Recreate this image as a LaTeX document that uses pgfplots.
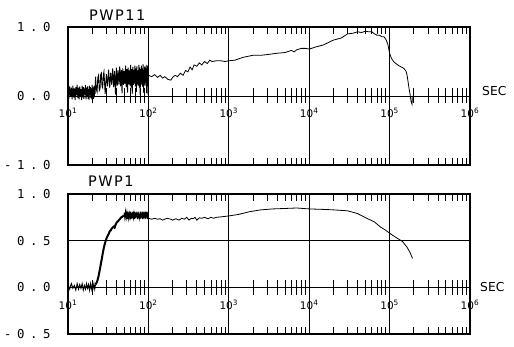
\documentclass[border=0pt]{standalone}
\usepackage{pgfplots}
\pgfplotsset{compat=1.18}
\usepackage{fontspec}
\setmainfont{DejaVu Sans}
\newfontfamily\labfont[LetterSpace=45]{DejaVu Sans Mono}
\newfontfamily\titfont[LetterSpace=10]{DejaVu Sans}
\begin{document}
\begin{tikzpicture}
% ---------------- top panel ----------------
\begin{axis}[at={(68pt,-165pt)}, anchor=south west, scale only axis, width=402pt, height=138pt,
    xmode=log, xmin=10, xmax=1000000, ymin=-1, ymax=1,
    axis line style={line width=1.2pt},
    xtick={100,1000,10000,100000}, xticklabels={},
    xmajorgrids, major grid style={black, line width=0.7pt},
    xminorticks=true,
    minor xtick={20,30,40,50,60,70,80,90,200,300,400,500,600,700,800,900,2000,3000,4000,5000,6000,7000,8000,9000,20000,30000,40000,50000,60000,70000,80000,90000,200000,300000,400000,500000,600000,700000,800000,900000},
    major tick length=0pt, minor tick length=7pt,
    minor x tick style={black, line width=0.9pt},
    tick align=inside, xtick pos=both, ytick pos=left,
    ytick={-1,0,1}, yticklabels={-1.0,0.0,1.0},
    yticklabel style={font=\labfont\fontsize{12.3}{12.3}\selectfont, xshift=-14pt}]
\addplot[black, line width=0.9pt] coordinates {
(10.00,0.10)(10.25,-0.04)(10.50,0.14)(10.75,0.00)(11.00,0.12)(11.25,-0.05)(11.50,0.15)(11.75,-0.02)
(12.00,0.11)(12.25,-0.06)(12.50,0.13)(12.75,0.01)(13.00,0.16)(13.25,-0.03)(13.50,0.12)(13.75,-0.05)
(14.00,0.14)(14.25,0.00)(14.50,0.10)(14.75,-0.06)(15.00,0.15)(15.25,-0.02)(15.50,0.13)(15.75,-0.04)
(16.00,0.11)(16.25,0.02)(16.50,0.16)(16.75,-0.05)(17.00,0.12)(17.25,-0.01)(17.50,0.14)(17.75,-0.04)
(18.00,0.10)(18.25,-0.06)(18.50,0.15)(18.75,0.01)(19.00,0.13)(19.25,-0.03)(19.50,0.11)(19.75,-0.05)
(20.00,0.16)(20.25,0.00)(20.50,0.12)(20.75,-0.04)(21.00,0.14)(21.25,-0.02)(21.50,0.15)(21.75,0.03)
(22,0.28)(22.5,0.10)(23,0.06)(23.5,0.27)(24,0.30)(24.5,0.08)(25,0.10)(25.5,0.31)(26,0.33)(26.5,0.14)
(27,0.12)(27.5,0.30)(28,0.35)(29,0.03)(30,0.32)(31,0.14)
(32,0.38)(33,0.12)(34,0.34)(35,0.16)(36,0.40)(37,0.13)(38,0.36)(39,0.02)(40,0.41)(41,0.15)
(42,0.37)(43,0.17)(44,0.43)(45,0.14)(46,0.38)(47,0.04)(48,0.40)(49,0.16)(50,0.36)(51,0.18)
(52,0.44)(53,0.13)(54,0.39)(55,0.05)(56,0.41)(57,0.17)(58,0.37)(59,0.15)(60,0.45)(61,0.12)
(62,0.39)(63,0.03)(64,0.42)(65,0.16)(66,0.38)(67,0.18)(68,0.44)(69,0.14)(70,0.40)(71,0.06)
(72,0.43)(73,0.17)(74,0.37)(75,0.15)(76,0.45)(77,0.12)(78,0.41)(79,0.02)(80,0.39)(81,0.18)
(82,0.44)(83,0.16)(84,0.40)(85,0.13)(86,0.46)(87,0.05)(88,0.38)(89,0.17)(90,0.43)(91,0.15)
(92,0.41)(93,0.19)(94,0.45)(95,0.04)(96,0.40)(97,0.16)(98,0.44)(99,0.02)(100,0.42)
};
\addplot[black, line width=0.8pt] coordinates {
(100,0.30)(110,0.28)(120,0.31)(130,0.27)(140,0.30)(150,0.26)(160,0.28)(175,0.24)(190,0.23)
(200,0.27)(215,0.30)(230,0.28)(250,0.33)(270,0.30)(290,0.37)(310,0.35)(330,0.42)(350,0.38)
(370,0.45)(400,0.43)(430,0.48)(460,0.45)(500,0.50)(540,0.47)(580,0.52)(620,0.50)(700,0.51)
(800,0.51)(900,0.50)(1000,0.51)(1200,0.52)(1500,0.56)(2000,0.59)(2500,0.59)(3000,0.60)
(4000,0.62)(5000,0.63)(6000,0.66)(6500,0.64)(7000,0.67)(8000,0.69)(9000,0.69)(10000,0.68)
(12000,0.71)(15000,0.74)(20000,0.81)(25000,0.84)(30000,0.90)(35000,0.91)(40000,0.93)
(45000,0.92)(50000,0.94)(55000,0.93)(60000,0.93)(65000,0.90)(70000,0.88)(75000,0.88)
(80000,0.86)(85000,0.86)(90000,0.82)(95000,0.75)(100000,0.62)(105000,0.55)(112000,0.50)
(120000,0.47)(130000,0.44)(140000,0.42)(150000,0.40)(160000,0.36)(165000,0.30)(170000,0.20)
(175000,0.10)(180000,0.02)(185000,-0.08)(190000,-0.12)(192000,0.0)
};
\end{axis}
% top-edge ticks of top panel
\begin{axis}[at={(68pt,-165pt)}, anchor=south west, scale only axis, width=402pt, height=138pt,
    xmode=log, xmin=10, xmax=1000000, ymin=-1, ymax=1,
    axis x line=top, axis y line=none,
    x axis line style={-, line width=1.2pt},
    xtick={100,1000,10000,100000}, xticklabels={},
    xminorticks=true,
    minor xtick={20,30,40,50,60,70,80,90,200,300,400,500,600,700,800,900,2000,3000,4000,5000,6000,7000,8000,9000,20000,30000,40000,50000,60000,70000,80000,90000,200000,300000,400000,500000,600000,700000,800000,900000},
    tick align=inside, major tick length=0pt, minor tick length=7pt,
    minor x tick style={black, line width=0.9pt}]
\end{axis}
\begin{axis}[at={(68pt,-165pt)}, anchor=south west, scale only axis, width=402pt, height=138pt,
    xmode=log, xmin=10, xmax=1000000, ymin=-1, ymax=1,
    axis x line=middle, axis y line=none,
    x axis line style={-, line width=0.9pt},
    xtick={10,100,1000,10000,100000,1000000},
    xticklabels={10\textsuperscript{1},10\textsuperscript{2},10\textsuperscript{3},10\textsuperscript{4},10\textsuperscript{5},10\textsuperscript{6}},
    xminorticks=true,
    minor xtick={20,30,40,50,60,70,80,90,200,300,400,500,600,700,800,900,2000,3000,4000,5000,6000,7000,8000,9000,20000,30000,40000,50000,60000,70000,80000,90000,200000,300000,400000,500000,600000,700000,800000,900000},
    tick align=center, major tick length=16pt, minor tick length=15pt,
    minor x tick style={black, line width=0.9pt},
    major x tick style={black, line width=0.9pt},
    xticklabel style={font=\fontsize{10.5}{10.5}\selectfont, yshift=-1pt}]
\end{axis}
% ---------------- bottom panel ----------------
\begin{axis}[at={(68pt,-334pt)}, anchor=south west, scale only axis, width=402pt, height=140pt,
    xmode=log, xmin=10, xmax=1000000, ymin=-0.5, ymax=1,
    axis line style={line width=1.2pt},
    xtick={100,1000,10000,100000}, xticklabels={},
    xmajorgrids, major grid style={black, line width=0.7pt},
    xminorticks=true,
    minor xtick={20,30,40,50,60,70,80,90,200,300,400,500,600,700,800,900,2000,3000,4000,5000,6000,7000,8000,9000,20000,30000,40000,50000,60000,70000,80000,90000,200000,300000,400000,500000,600000,700000,800000,900000},
    major tick length=0pt, minor tick length=7pt,
    minor x tick style={black, line width=0.9pt},
    tick align=inside, xtick pos=both, ytick pos=left,
    ytick={-0.5,0,0.5,1}, yticklabels={-0.5,0.0,0.5,1.0},
    yticklabel style={font=\labfont\fontsize{12.3}{12.3}\selectfont, xshift=-14pt}]
\addplot[black, line width=0.7pt] coordinates {(10,0.5)(1000000,0.5)};
\addplot[black, line width=0.9pt] coordinates {
(10,0.03)(10.5,-0.02)(11,0.04)(11.5,-0.01)(12,0.02)(12.5,-0.03)(13,0.04)(13.5,-0.02)(14,0.03)
(14.5,-0.01)(15,0.04)(15.5,-0.03)(16,0.02)(16.5,-0.02)(17,0.04)(17.5,-0.01)(18,0.03)(18.5,-0.03)
(19,0.04)(19.5,-0.02)(20,0.03)(20.5,-0.01)(21,0.04)(21.5,-0.02)(22,0.03)
};
\addplot[black, line width=2pt] coordinates {
(22,0.03)(23,0.06)(24,0.12)(25,0.20)(26,0.28)(27,0.36)(28,0.43)(29,0.48)(30,0.52)(31,0.55)
(32,0.57)(33,0.60)(34,0.61)(35,0.63)(36,0.64)(37,0.65)(38,0.64)(39,0.67)(40,0.69)(42,0.71)
(44,0.73)(46,0.75)(48,0.76)(50,0.77)
};
\addplot[black, line width=1pt] coordinates {
(50,0.80)(51,0.74)(52,0.81)(53,0.75)(54,0.80)(55,0.73)(56,0.81)(57,0.74)(58,0.79)(59,0.75)
(60,0.81)(61,0.73)(62,0.80)(63,0.74)(64,0.81)(65,0.75)(66,0.79)(67,0.73)(68,0.81)(69,0.74)
(70,0.80)(71,0.75)(72,0.81)(73,0.73)(74,0.80)(75,0.74)(76,0.81)(77,0.75)(78,0.79)(79,0.73)
(80,0.81)(81,0.74)(82,0.80)(83,0.75)(84,0.81)(85,0.73)(86,0.80)(87,0.74)(88,0.81)(89,0.75)
(90,0.79)(91,0.73)(92,0.81)(93,0.74)(94,0.80)(95,0.75)(96,0.81)(97,0.73)(98,0.80)(99,0.74)(100,0.77)
};
\addplot[black, line width=0.8pt] coordinates {
(100,0.74)(110,0.73)(120,0.74)(130,0.73)(140,0.735)(150,0.72)(170,0.74)(190,0.73)(200,0.72)
(220,0.735)(240,0.72)(260,0.74)(280,0.73)(300,0.75)(320,0.72)(340,0.74)(360,0.735)(380,0.75)
(400,0.72)(430,0.745)(460,0.74)(500,0.75)(550,0.735)(600,0.75)(650,0.74)(700,0.75)(800,0.755)
(1000,0.765)(1300,0.78)(1800,0.81)(2500,0.83)(3500,0.84)(5000,0.845)(7000,0.85)(10000,0.84)
(15000,0.835)(20000,0.83)(30000,0.82)(40000,0.79)(52000,0.74)(65000,0.70)(76000,0.65)
(90000,0.61)(100000,0.58)(120000,0.535)(145000,0.49)(165000,0.43)(180000,0.37)(193000,0.31)
};
\end{axis}
% top-edge ticks of bottom panel
\begin{axis}[at={(68pt,-334pt)}, anchor=south west, scale only axis, width=402pt, height=140pt,
    xmode=log, xmin=10, xmax=1000000, ymin=-0.5, ymax=1,
    axis x line=top, axis y line=none,
    x axis line style={-, line width=1.2pt},
    xtick={100,1000,10000,100000}, xticklabels={},
    xminorticks=true,
    minor xtick={20,30,40,50,60,70,80,90,200,300,400,500,600,700,800,900,2000,3000,4000,5000,6000,7000,8000,9000,20000,30000,40000,50000,60000,70000,80000,90000,200000,300000,400000,500000,600000,700000,800000,900000},
    tick align=inside, major tick length=0pt, minor tick length=7pt,
    minor x tick style={black, line width=0.9pt}]
\end{axis}
\begin{axis}[at={(68pt,-334pt)}, anchor=south west, scale only axis, width=402pt, height=140pt,
    xmode=log, xmin=10, xmax=1000000, ymin=-0.5, ymax=1,
    axis x line=middle, axis y line=none,
    x axis line style={-, line width=0.9pt},
    xtick={10,100,1000,10000,100000,1000000},
    xticklabels={10\textsuperscript{1},10\textsuperscript{2},10\textsuperscript{3},10\textsuperscript{4},10\textsuperscript{5},10\textsuperscript{6}},
    xminorticks=true,
    minor xtick={20,30,40,50,60,70,80,90,200,300,400,500,600,700,800,900,2000,3000,4000,5000,6000,7000,8000,9000,20000,30000,40000,50000,60000,70000,80000,90000,200000,300000,400000,500000,600000,700000,800000,900000},
    tick align=center, major tick length=16pt, minor tick length=15pt,
    minor x tick style={black, line width=0.9pt},
    major x tick style={black, line width=0.9pt},
    xticklabel style={font=\fontsize{10.5}{10.5}\selectfont, yshift=-1pt}]
\end{axis}
% ---------------- texts ----------------
\node[anchor=base west, inner sep=0pt, font=\titfont\fontsize{14.5}{14.5}\selectfont] at (89pt,-21pt) {PWP11};
\node[anchor=base west, inner sep=0pt, font=\titfont\fontsize{14.5}{14.5}\selectfont] at (88pt,-187pt) {PWP1};
\node[anchor=base west, inner sep=0pt, font=\fontsize{12.3}{12.3}\selectfont] at (482pt,-96pt) {SEC};
\node[anchor=base west, inner sep=0pt, font=\fontsize{12.3}{12.3}\selectfont] at (480pt,-291pt) {SEC};
\pgfresetboundingbox
\useasboundingbox (0,0) rectangle (514pt,-347pt);
\end{tikzpicture}
\end{document}
